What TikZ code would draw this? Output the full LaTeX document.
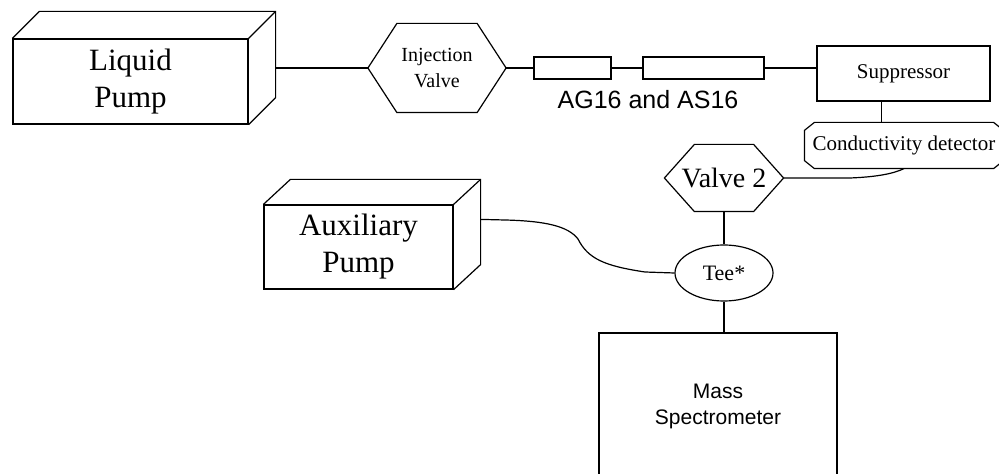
\documentclass[tikz,border=0pt]{standalone}
\usepackage{fontspec}
\setmainfont{Liberation Serif}
\setsansfont{Liberation Sans}
\usetikzlibrary{shapes.geometric}

\tikzset{
  pumpface/.style={draw, rectangle, inner sep=0pt, align=center, font=\fontsize{31}{37}\selectfont},
  valvebox/.style={rectangle, inner sep=0pt, align=center},
  column/.style={draw, rectangle, inner sep=0pt, minimum height=22},
  unitbox/.style={draw, rectangle, inner sep=0pt, align=center},
}

\begin{document}
\begin{tikzpicture}[x=1pt, y=1pt, line width=1.2pt]
\useasboundingbox (0,0) rectangle (999,474);
%% liquid pump
\node[pumpface, minimum width=235, minimum height=85] (lp) at (130.5,392.5) {Liquid\\Pump};
\draw (lp.north west) -- ++(27,27) -- ([shift={(27,27)}]lp.north east) -- ([shift={(27,27)}]lp.south east) -- (lp.south east);
\draw (lp.north east) -- ++(27,27);
\coordinate (lpb) at ([shift={(27,27)}]lp.north east);
%% injection valve
\node[valvebox, minimum width=137, minimum height=88, font=\fontsize{20}{26}\selectfont] (iv) at (437,406) {Injection\\Valve};
\draw (iv.west) -- ([xshift=29]iv.north west) -- ([xshift=-29]iv.north east) -- (iv.east) -- ([xshift=-29]iv.south east) -- ([xshift=29]iv.south west) -- cycle;
%% columns
\node[column, minimum width=77] (ag) at (572.5,406) {};
\node[column, minimum width=121] (as) at (703.5,406) {};
\node[font=\sffamily\fontsize{25}{30}\selectfont] (cols) at (648,374) {AG16 and AS16};
\node[unitbox, minimum width=173, minimum height=55, font=\fontsize{21}{25}\selectfont] (sup) at (903.5,400.5) {Suppressor};
\draw (lpb |- iv.west) -- (iv.west);
\draw (iv.east) -- (ag.west);
\draw (ag.east) -- (as.west);
\draw (as.east) -- (as.east -| sup.west);
%% detector
\node[valvebox, minimum width=198, minimum height=45, font=\fontsize{21}{25}\selectfont] (det) at (904,328.5) {Conductivity detector};
\draw ([xshift=10]det.north west) -- ([xshift=-10]det.north east) -- ([yshift=-8]det.north east) -- ([yshift=8]det.south east) -- ([xshift=-10]det.south east) -- ([xshift=10]det.south west) -- ([yshift=8]det.south west) -- ([yshift=-8]det.north west) -- cycle;
\coordinate (sd) at ([xshift=-22]sup.south);
\draw (sd) -- (sd |- det.north);
%% valve 2
\node[valvebox, minimum width=118, minimum height=66, font=\fontsize{28}{32}\selectfont] (v2) at (724,296) {Valve 2};
\draw (v2.west) -- ([xshift=30]v2.north west) -- ([xshift=-30]v2.north east) -- (v2.east) -- ([xshift=-30]v2.south east) -- ([xshift=30]v2.south west) -- cycle;
\draw (v2.east) -- (850,296) .. controls (875,297) and (893,300) .. (det.south);
%% tee and mass spectrometer
\node[draw, ellipse, minimum width=98, minimum height=56, inner sep=0pt, font=\fontsize{22}{26}\selectfont] (tee) at (724,201) {Tee*};
\node[unitbox, minimum width=238, minimum height=147, font=\sffamily\fontsize{21}{26}\selectfont] (ms) at (718,67.5) {Mass\\Spectrometer};
\draw (v2.south) -- (tee.north);
\draw (tee.south) -- (tee.south |- ms.north);
%% auxiliary pump
\node[pumpface, minimum width=189, minimum height=84] (ap) at (358.5,227) {Auxiliary\\Pump};
\draw (ap.north west) -- ++(27,25) -- ([shift={(27,25)}]ap.north east) -- ([shift={(27,25)}]ap.south east) -- (ap.south east);
\draw (ap.north east) -- ++(27,25);
\coordinate (apb) at ([shift={(27,25)}]ap.north east);
\coordinate (apo) at ([yshift=-40]apb);
\draw (apo) -- (505,254) .. controls (545,253) and (568,248) .. (578,235) .. controls (588,215) and (605,208) .. (645,202) -- (tee.west);
\end{tikzpicture}
\end{document}
